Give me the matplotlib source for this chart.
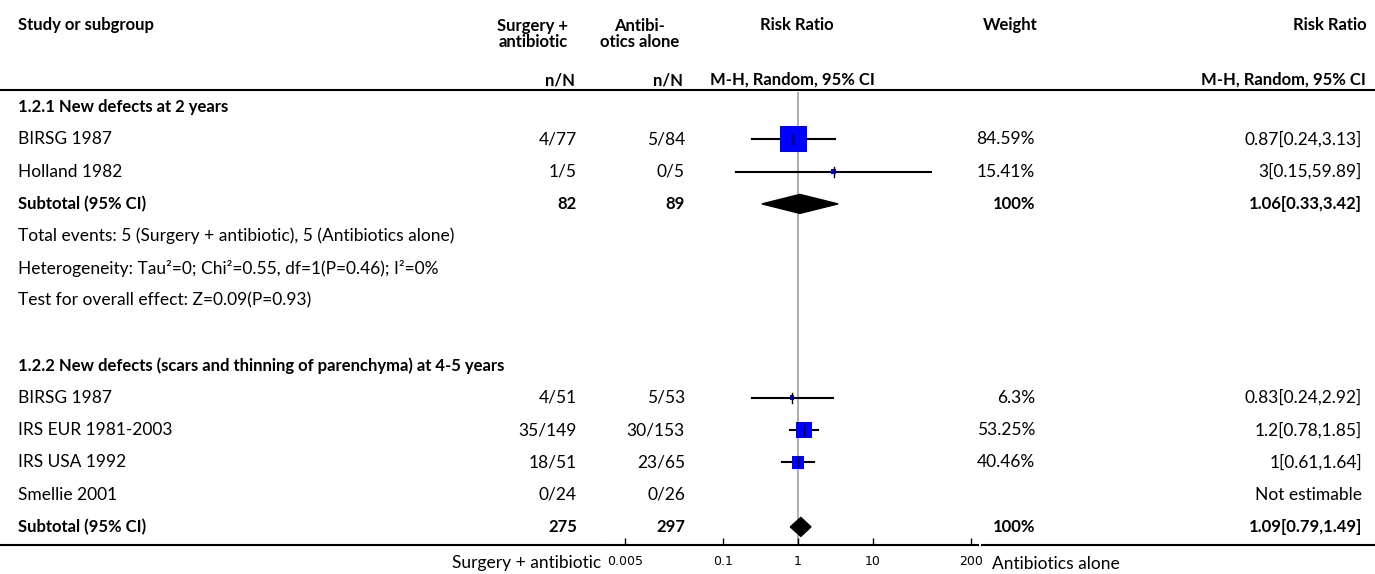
import numpy as np
import matplotlib.pyplot as plt

plt.rcParams['font.family'] = ['Lato', 'DejaVu Sans']

# data
studies = ['BIRSG 1987', 'Holland 1982', 'BIRSG 1987', 'IRS EUR 1981-2003', 'IRS USA 1992', 'Smellie 2001']
study_row = [1, 2, 9, 10, 11, 12]
surg_nN = ['4/77', '1/5', '4/51', '35/149', '18/51', '0/24']
anti_nN = ['5/84', '0/5', '5/53', '30/153', '23/65', '0/26']
rr = [0.87, 3, 0.83, 1.2, 1, np.nan]
lo = [0.24, 0.15, 0.24, 0.78, 0.61, np.nan]
hi = [3.13, 59.89, 2.92, 1.85, 1.64, np.nan]
weight = [84.59, 15.41, 6.3, 53.25, 40.46, np.nan]

groups = ['1.2.1 New defects at 2 years',
          '1.2.2 New defects (scars and thinning of parenchyma) at 4-5 years']
group_row = [0, 8]
sub_row = [3, 13]
sub_surg = ['82', '275']
sub_anti = ['89', '297']
sub_rr = [1.06, 1.09]
sub_lo = [0.33, 0.79]
sub_hi = [3.42, 1.49]

notes = ['Total events: 5 (Surgery + antibiotic), 5 (Antibiotics alone)',
         'Heterogeneity: Tau\u00b2=0; Chi\u00b2=0.55, df=1(P=0.46); I\u00b2=0%',
         'Test for overall effect: Z=0.09(P=0.93)']
note_row = [4, 5, 6]

ticks = [0.005, 0.1, 1, 10, 200]
tick_labels = ['0.005', '0.1', '1', '10', '200']

W, H = 1375, 574
y0, dy = 107, 32.3   # first row centre and row pitch (pixels)
fs = 12.5
fsb = 12.0

def ry(r):
    return y0 + dy * r

def fmt_ci(m, a, b):
    return '%g[%g,%g]' % (m, a, b)

fig = plt.figure(figsize=(W / 100, H / 100), dpi=100)
ax = fig.add_axes([0, 0, 1, 1])
ax.set_xlim(0, W)
ax.set_ylim(H, 0)
ax.axis('off')

# headers
hb = dict(fontsize=fsb, fontweight='bold', va='center')
ax.text(18, 25, 'Study or subgroup', ha='left', **hb)
ax.text(533, 34, 'Surgery +\nantibiotic', ha='center', linespacing=0.95, **hb)
ax.text(640, 34, 'Antibi-\notics alone', ha='center', linespacing=0.95, **hb)
ax.text(797, 25, 'Risk Ratio', ha='center', **hb)
ax.text(1010, 25, 'Weight', ha='center', **hb)
ax.text(1330, 25, 'Risk Ratio', ha='center', **hb)
ax.text(560, 80, 'n/N', ha='center', **hb)
ax.text(668, 80, 'n/N', ha='center', **hb)
ax.text(792, 80, 'M-H, Random, 95% CI', ha='center', **hb)
ax.text(1366, 80, 'M-H, Random, 95% CI', ha='right', **hb)
ax.plot([0, W], [90, 90], color='black', lw=1.5)

# group titles
for g, r in zip(groups, group_row):
    ax.text(18, ry(r), g, ha='left', **hb)

# study rows
for i in range(len(studies)):
    y = ry(study_row[i])
    ax.text(18, y, studies[i], fontsize=fs, va='center')
    ax.text(577, y, surg_nN[i], fontsize=fs, va='center', ha='right')
    ax.text(685, y, anti_nN[i], fontsize=fs, va='center', ha='right')
    if np.isnan(rr[i]):
        ax.text(1362, y, 'Not estimable', fontsize=fs, va='center', ha='right')
    else:
        ax.text(1035, y, '%g%%' % weight[i], fontsize=fs, va='center', ha='right')
        ax.text(1362, y, fmt_ci(rr[i], lo[i], hi[i]), fontsize=fs, va='center', ha='right')

# subtotals
for k in range(2):
    y = ry(sub_row[k])
    ax.text(18, y, 'Subtotal (95% CI)', ha='left', **hb)
    ax.text(577, y, sub_surg[k], ha='right', **hb)
    ax.text(685, y, sub_anti[k], ha='right', **hb)
    ax.text(1035, y, '100%', ha='right', **hb)
    ax.text(1362, y, fmt_ci(sub_rr[k], sub_lo[k], sub_hi[k]), ha='right', **hb)

for n, r in zip(notes, note_row):
    ax.text(18, ry(r), n, fontsize=fs, va='center')

# bottom rule and side labels
ax_l, ax_r, ax_b, ax_t = 604, 978, 545, 92
ax.plot([0, ax_l], [ax_b, ax_b], color='black', lw=1.5)
ax.plot([ax_r + 4, W], [ax_b, ax_b], color='black', lw=1.5)
ax.text(601, 563, 'Surgery + antibiotic', fontsize=fs, ha='right', va='center')
ax.text(992, 564, 'Antibiotics alone', fontsize=fs, ha='left', va='center')

# forest axes
fx = fig.add_axes([ax_l / W, (H - ax_b) / H, (ax_r - ax_l) / W, (ax_b - ax_t) / H])
fx.set_xscale('log')
px_dec = 75.0
fx.set_xlim(10 ** ((ax_l - 798) / px_dec), 10 ** ((ax_r - 798) / px_dec))
fx.set_ylim(ax_b, ax_t)
fx.patch.set_alpha(0)
for s in ['top', 'left', 'right']:
    fx.spines[s].set_visible(False)
fx.spines['bottom'].set_linewidth(1.5)
fx.set_yticks([])
fx.set_xticks(ticks)
fx.set_xticklabels(tick_labels, fontfamily='DejaVu Sans', fontsize=9)
fx.minorticks_off()
fx.tick_params(axis='x', direction='in', length=5, width=1, pad=7)

fx.axvline(1, color='#a0a0a0', lw=1.2, zorder=1)

for i in range(len(studies)):
    if np.isnan(rr[i]):
        continue
    y = ry(study_row[i])
    fx.plot([lo[i], hi[i]], [y, y], color='black', lw=1.5, zorder=2)
    side = max(4.5, 0.31 * weight[i])
    fx.scatter([rr[i]], [y], marker='s', s=(side * 0.72) ** 2, color='#0000ff',
               edgecolors='none', zorder=3)
    fx.plot([rr[i], rr[i]], [y - 5, y + 5], color='black', lw=1, zorder=4)

for k in range(2):
    y = ry(sub_row[k])
    h = 9.5
    fx.fill([sub_lo[k], sub_rr[k], sub_hi[k], sub_rr[k]], [y, y - h, y, y + h],
            color='black', zorder=3)

fig.savefig('out.png', dpi=100)
